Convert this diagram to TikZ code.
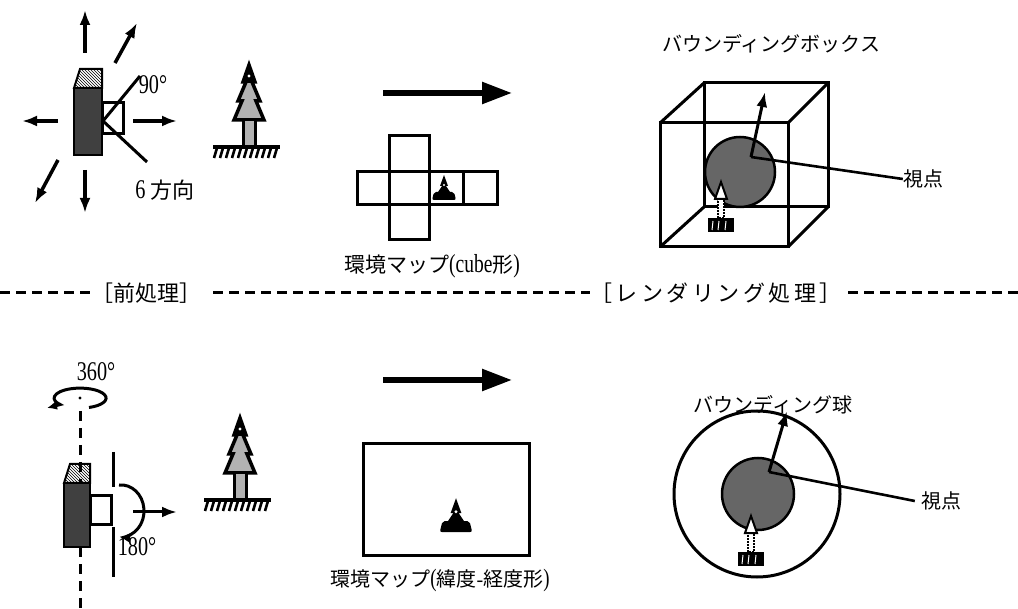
\documentclass[tikz,border=0pt]{standalone}
\usepackage{fontspec}
\setmainfont{Liberation Serif}
\newfontfamily\jp{Noto Sans CJK JP}
\newfontfamily\jpwide[LetterSpace=16]{Noto Sans CJK JP}
\newfontfamily\numfont[FakeStretch=0.75]{Liberation Serif}
\usetikzlibrary{arrows.meta,patterns,calc}
\begin{document}
\begin{tikzpicture}[x=1pt,y=-1pt,
  txt/.style={font=\fontsize{20}{24}\selectfont, inner sep=0pt, anchor=center},
  numtxt/.style={font=\numfont\fontsize{27}{30}\selectfont, inner sep=0pt, anchor=center},
  jtxt/.style={font=\jp\fontsize{20}{24}\selectfont, inner sep=0pt, anchor=center},
  edge/.style={line width=3pt, line join=miter},
  dirarrow/.style={line width=3.5pt, -{Latex[length=15pt,width=11pt]}},
  bigarrow/.style={line width=5.5pt, -{Triangle[length=30pt,width=21pt]}},
  pointer/.style={line width=3pt, -{Latex[length=15pt,width=11pt]}},
  leader/.style={line width=2.6pt},
  divider/.style={line width=3pt, dash pattern=on 10pt off 6pt},
  axisline/.style={line width=3pt, dash pattern=on 10pt off 7pt},
  cambody/.style={fill=black!75, draw=black, line width=2pt},
  camtop/.style={pattern=north west lines, draw=black, line width=2pt},
  tree/.pic={
    \path[draw, fill=black!30, line width=3.5pt, line join=miter]
      (0,-82) -- (6,-65) -- (3,-65) -- (11,-46) -- (7,-46) -- (15,-27)
      -- (-15,-27) -- (-7,-46) -- (-11,-46) -- (-3,-65) -- (-6,-65) -- cycle;
    \fill (0,-83) -- (5.5,-64) -- (-5.5,-64) -- cycle;
    \fill[white] (0,-71) circle[radius=1.6];
    \draw[fill=black!30, line width=3pt] (-6,-27) rectangle (6,0);
    \draw[line width=4pt] (-36,0) -- (31,0);
    \foreach \h in {-32,-26,...,28} \draw[line width=2.6pt] (\h,1) -- (\h-3,11);
  },
  minitree/.pic={
    \fill (0,-25) -- (4,-14) -- (2,-14) -- (6,-8) -- (-6,-8) -- (-2,-14) -- (-4,-14) -- cycle;
    \fill[white] (0,-15) circle[radius=1.2];
    \fill[rounded corners=2pt] (-10,-8) -- (10,-8) -- (12,0) -- (-12,0) -- cycle;
  },
  arrowtree/.pic={
    \fill (-13,0) rectangle (13,14);
    \draw[white, line width=1pt] (-8,3) -- (-9,12) (-2,3) -- (-3,12) (5,3) -- (4,12);
    \draw[fill=white, line width=1.2pt, dash pattern=on 2pt off 1pt] (-3,-20) rectangle (3,0);
    \draw[fill=white, line width=2pt] (0,-36) -- (6,-19) -- (-6,-19) -- cycle;
  }
]
\fill[white] (0,0) rectangle (1018,609);
\useasboundingbox (0,0) rectangle (1018,609);

% ---------- cube-map capture: camera with six directions ----------
\draw[dirarrow] (85,53) -- (85,10);
\draw[dirarrow] (115,63) -- (137,23);
\draw[dirarrow] (58,121) -- (22,121);
\draw[dirarrow] (133,121) -- (177,121);
\draw[dirarrow] (58,160) -- (35,203);
\draw[dirarrow] (85,170) -- (85,213);
\draw[camtop] (74,88) -- (80,69) -- (102,69) -- (102,88) -- cycle;
\draw[cambody] (74,88) rectangle (102,155);
\draw[edge, fill=white] (102,103) rectangle (123,134);
\coordinate (fov) at (103,121);
\coordinate (fovA) at (140,76);
\coordinate (fovB) at (147,162);
\draw[edge] (fovA) -- (fov) -- (fovB);
\node[numtxt] (ang90) at (153,85) {90°};
\node[txt] (six) at (165,190) {{\numfont\fontsize{27}{30}\selectfont 6} {\jp\fontsize{22}{24}\selectfont 方向}};
\pic at (249,147) {tree};

% cube map (unfolded)
\draw[bigarrow] (383,93) -- (512,93);
\draw[edge] (389,136) rectangle (429,240);
\draw[edge] (357,172) rectangle (497,205);
\draw[edge] (463,172) -- (463,205);
\pic at (444,200) {minitree};
\node[txt] (cubelbl) at (432,266) {{\jp\fontsize{21}{24}\selectfont 環境マップ}{\numfont\fontsize{26}{28}\selectfont (cube}{\jp\fontsize{21}{24}\selectfont 形}{\numfont\fontsize{26}{28}\selectfont )}};

% bounding box
\node[jtxt] (bbox) at (771,44) {バウンディングボックス};
\draw[edge] (704,83) rectangle (828,207);
\draw[edge] (660,123) -- (704,83) (788,123) -- (828,83)
            (788,247) -- (828,207) (660,247) -- (704,207);
\draw[edge] (660,123) rectangle (788,247);
\draw[line width=2.5pt, fill=black!60] (740,172) circle[radius=35];
\coordinate (eye1) at (751,157);
\coordinate (dir1) at (765,92);
\draw[pointer] (eye1) -- (dir1);
\node[jtxt] (vp1) at (923,179) {視点};
\draw[leader] (eye1) -- (vp1.west);
\pic at (721,218) {arrowtree};

% ---------- separator ----------
\node[jtxt, font=\jp\fontsize{22}{24}\selectfont] (pre) at (146,293) {［前処理］};
\node[jtxt, font=\jpwide\fontsize{22}{24}\selectfont] (ren) at (716,293) {［レンダリング処理］};
\coordinate (sepL) at (0,293);
\coordinate (sepR) at (1018,293);
\draw[divider] (sepL) -- (pre.west);
\draw[divider] ($(pre.east)+(12,0)$) -- (ren.west);
\draw[divider] ($(ren.east)+(6,0)$) -- (sepR);

% ---------- latitude-longitude capture: rotating camera ----------
\node[numtxt] (ang360) at (96,372) {360°};
\draw[line width=3pt, -{Latex[length=10pt,width=9pt]}]
  (89,407.5) arc[start angle=70, end angle=-220, x radius=26, y radius=10] -- (47,408);
\fill (80,398) circle[radius=1.6];
\draw[axisline] (80,411) -- (80,609);
\draw[camtop] (64,483) -- (70,464) -- (90,464) -- (90,483) -- cycle;
\draw[cambody] (64,483) rectangle (90,547);
\draw[edge, fill=white] (90,496) rectangle (111,524);
\draw[edge] (113,452) -- (113,487);
\draw[edge] (113,527) -- (113,577);
\draw[line width=3pt, -{Latex[length=11pt,width=10pt]}]
  (119,485) arc[start angle=-95, end angle=95, x radius=23, y radius=26];
\draw[line width=3pt, -{Latex[length=15pt,width=11pt]}] (133,512) -- (177,512);
\node[numtxt] (ang180) at (137,547) {180°};
\pic at (240,500) {tree};

% latitude-longitude map
\draw[bigarrow] (383,380) -- (512,380);
\draw[edge] (363,444) rectangle (529,555);
\pic[scale=1.35] at (456,532) {minitree};
\node[txt] (lllbl) at (440,580) {{\jp 環境マップ}{\numfont\fontsize{25}{28}\selectfont (}{\jp 緯度}-{\jp 経度形}{\numfont\fontsize{25}{28}\selectfont )}};

% bounding sphere
\node[jtxt] (bsph) at (773,405) {バウンディング球};
\draw[edge] (757,494) circle[radius=83];
\draw[line width=2.5pt, fill=black!60] (758,494) circle[radius=36];
\coordinate (eye2) at (769,472);
\coordinate (dir2) at (787,411);
\draw[pointer] (eye2) -- (dir2);
\node[jtxt] (vp2) at (941,501) {視点};
\draw[leader] (eye2) -- ($(vp2.west)+(-6,0)$);
\pic at (751,552) {arrowtree};
\end{tikzpicture}
\end{document}
